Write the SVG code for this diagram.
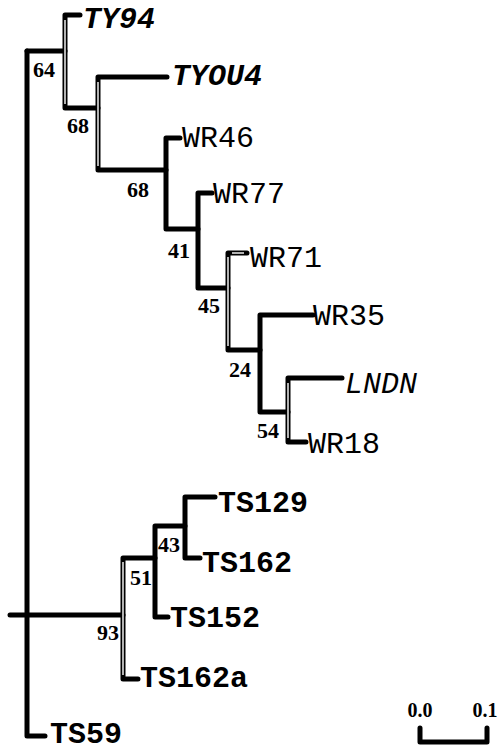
<svg xmlns="http://www.w3.org/2000/svg" width="499" height="752" viewBox="0 0 499 752">
<style>
  .br { fill: none; stroke: #000; stroke-width: 5; stroke-linecap: round; stroke-linejoin: round; }
  .dbl { fill: none; stroke: #fff; stroke-width: 1.4; stroke-linecap: butt; }
  .sup { font-family: "Liberation Serif", "Times New Roman", serif; font-weight: bold; font-size: 22px; fill: #000; }
  .tx { font-family: "Liberation Mono", "Courier New", monospace; font-size: 30px; fill: #000; }
  .b { font-weight: bold; }
  .i { font-style: italic; }
  .sc { font-family: "Liberation Serif", "Times New Roman", serif; font-weight: bold; font-size: 20px; fill: #000; text-anchor: middle; }
</style>
<rect width="499" height="752" fill="#fff"/>
<g id="connectors">
  <path class="br" d="M10,615 H123"/>
  <path class="br" d="M27,51 V736 H45"/>
  <path class="br" d="M27,51 H65"/>
  <path class="br" d="M80,15 H65 V108 H98"/>
  <path class="br" d="M167,77 H98 V170 H166"/>
  <path class="br" d="M180,138 H166 V229 H198"/>
  <path class="br" d="M212,193 H198 V288 H228"/>
  <path class="br" d="M247,253 H228 V350 H260"/>
  <path class="br" d="M313,315 H260 V412 H288"/>
  <path class="br" d="M342,378 H288 V442 H306"/>
  <path class="br" d="M138,679 H123 V558 H155"/>
  <path class="br" d="M168,617 H155 V526 H185"/>
  <path class="br" d="M215,497 H185 V558 H200"/>
  <path class="dbl" d="M65,20 V104"/>
  <path class="dbl" d="M98,82 V166"/>
  <path class="dbl" d="M228,257 V346"/>
  <path class="dbl" d="M232,253 H244"/>
  <path class="dbl" d="M288,383 V438"/>
  <path class="dbl" d="M123,562 V675"/>
</g>
<g id="n64"><text class="sup" x="33" y="77">64</text></g>
<g id="n68a"><text class="sup" x="67" y="133">68</text></g>
<g id="n68b"><text class="sup" x="127" y="197">68</text></g>
<g id="n41"><text class="sup" x="168" y="258">41</text></g>
<g id="n45"><text class="sup" x="198" y="313">45</text></g>
<g id="n24"><text class="sup" x="229" y="377">24</text></g>
<g id="n54"><text class="sup" x="257" y="438">54</text></g>
<g id="n43"><text class="sup" x="158" y="552">43</text></g>
<g id="n51"><text class="sup" x="130" y="585">51</text></g>
<g id="n93"><text class="sup" x="97" y="640">93</text></g>
<g id="TY94"><text class="tx b i" x="83" y="28">TY94</text></g>
<g id="TYOU4"><text class="tx b i" x="172" y="85">TYOU4</text></g>
<g id="WR46"><text class="tx" x="182" y="147">WR46</text></g>
<g id="WR77"><text class="tx" x="213" y="203">WR77</text></g>
<g id="WR71"><text class="tx" x="250" y="267">WR71</text></g>
<g id="WR35"><text class="tx" x="313" y="325">WR35</text></g>
<g id="LNDN"><text class="tx i" x="345" y="393">LNDN</text></g>
<g id="WR18"><text class="tx" x="308" y="453">WR18</text></g>
<g id="TS129"><text class="tx b" x="218" y="512">TS129</text></g>
<g id="TS162"><text class="tx b" x="202" y="572">TS162</text></g>
<g id="TS152"><text class="tx b" x="170" y="627">TS152</text></g>
<g id="TS162a"><text class="tx b" x="140" y="687">TS162a</text></g>
<g id="TS59"><text class="tx b" x="50" y="743" font-size="28">TS59</text></g>
<g id="scale">
  <path class="br" d="M420,728 V742 H487 V728"/>
  <text class="sc" x="420" y="717">0.0</text>
  <text class="sc" x="485" y="717">0.1</text>
</g>
</svg>
